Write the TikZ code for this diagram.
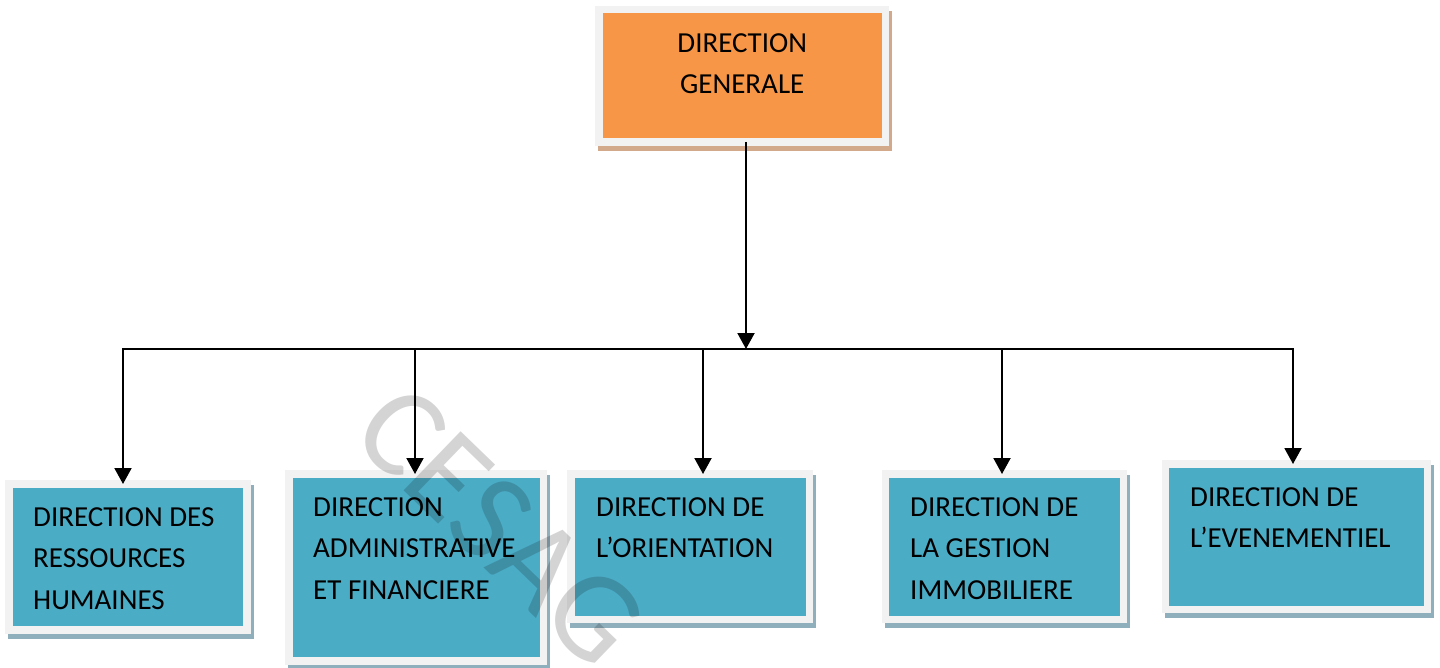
\documentclass[tikz,border=0pt]{standalone}
\usepackage{fontspec}
\setmainfont{Carlito}
\usetikzlibrary{positioning,arrows.meta}

\definecolor{dgorange}{HTML}{F79646}
\definecolor{dirblue}{HTML}{4BACC6}
\definecolor{framegray}{HTML}{F2F2F2}
\definecolor{dgshadow}{HTML}{D2AA8B}
\definecolor{dirshadow}{HTML}{8FAFBC}

\begin{document}
\begin{tikzpicture}[
		x=1pt, y=-1pt
		,box/.style={rectangle, draw=framegray, line width=7.5pt, inner sep=0pt, outer sep=0pt, anchor=north west}
		,shad/.style={preaction={draw=#1, fill=#1, line width=7.5pt, transform canvas={shift={(3pt,-5pt)}}}}
		,dir/.style={fill=dirblue, shad=dirshadow}
		,lbl/.style={align=left, inner sep=0pt, font=\fontsize{29}{41.5}\selectfont}
		,arr/.style={line width=2pt, -{Triangle[width=17pt,length=16pt]}}
		,wmark/.style={font=\fontsize{128}{128}\selectfont, text=black, text opacity=0.17, inner sep=0pt}
	]
		\useasboundingbox (0,0) rectangle (1440,668);

		% boxes
		\node [box, fill=dgorange, shad=dgshadow, minimum width=286.5pt, minimum height=132.5pt] (DG) at (599,9.5) {};
		\node [box, dir, minimum width=238pt, minimum height=146pt] (RH) at (9,484) {};
		\node [box, dir, minimum width=254.5pt, minimum height=187pt] (AF) at (289,474) {};
		\node [box, dir, minimum width=238.5pt, minimum height=145.5pt] (OR) at (571,474) {};
		\node [box, dir, minimum width=238pt, minimum height=145.5pt] (GI) at (885.5,474) {};
		\node [box, dir, minimum width=262pt, minimum height=145.5pt] (EV) at (1165.5,464) {};

		% texts
		\node [lbl, align=center, below=23.5pt of DG.north] (DGt) {DIRECTION\\GENERALE};
		\node [lbl, below right=23pt and 24pt of RH.north west] (RHt) {DIRECTION DES\\RESSOURCES\\HUMAINES};
		\node [lbl, below right=23pt and 24pt of AF.north west] (AFt) {DIRECTION\\ADMINISTRATIVE\\ET FINANCIERE};
		\node [lbl, below right=23pt and 25pt of OR.north west] (ORt) {DIRECTION DE\\L’ORIENTATION};
		\node [lbl, below right=23pt and 24.5pt of GI.north west] (GIt) {DIRECTION DE\\LA GESTION\\IMMOBILIERE};
		\node [lbl, below right=23pt and 24.5pt of EV.north west] (EVt) {DIRECTION DE\\L’EVENEMENTIEL};

		% connectors
		\coordinate (hub) at (746,349);
		\coordinate (b1) at (123,349);
		\coordinate (b2) at (415,349);
		\coordinate (b3) at (703,349);
		\coordinate (b4) at (1002,349);
		\coordinate (b5) at (1293,349);
		\draw [line width=2pt, line cap=rect] (b1) -- (b5);
		\draw [arr] (DG.south -| hub) -- (hub);
		\foreach \b/\n in {b1/RH, b2/AF, b3/OR, b4/GI, b5/EV}
			\draw [arr] (\b) -- (\b |- \n.north);

		% watermark
		\node [wmark, rotate=-44] (wm) at (500,526) {CESAG};
	\end{tikzpicture}
\end{document}
